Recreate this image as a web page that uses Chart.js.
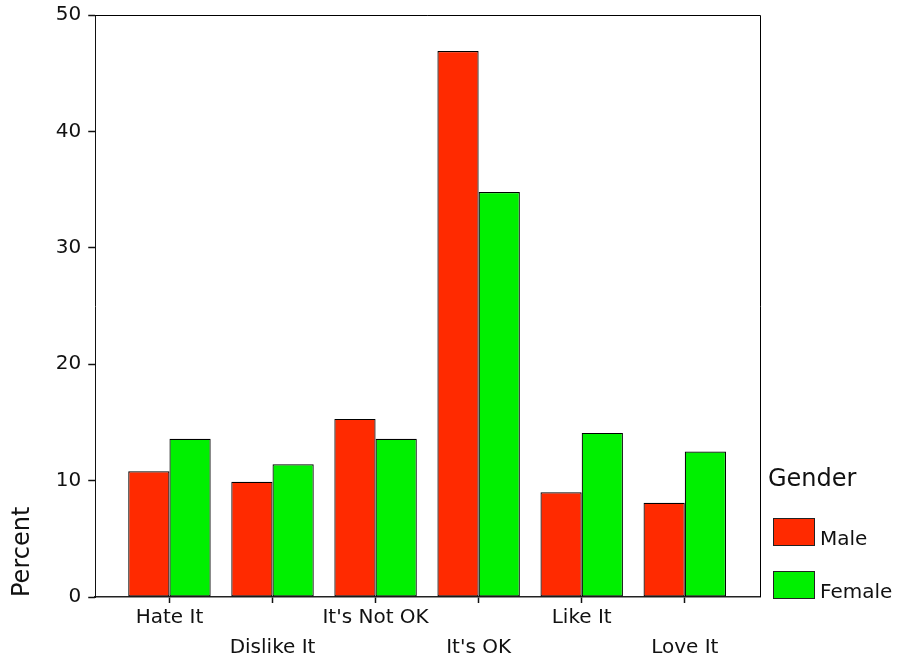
<!DOCTYPE html>
<html>
<head>
<meta charset="utf-8">
<title>Percent by Gender</title>
<script src="https://cdn.jsdelivr.net/npm/chart.js@4.4.1/dist/chart.umd.min.js"></script>
<style>
  html, body { margin:0; padding:0; background:#fff; }
  canvas { display:block; }
</style>
</head>
<body>
<canvas id="genderChart" width="901" height="667"></canvas>
<script>
var categories = ["Hate It", "Dislike It", "It's Not OK", "It's OK", "Like It", "Love It"];
var maleValues = [10.8, 9.9, 15.3, 46.9, 9.0, 8.1];
var femaleValues = [13.6, 11.4, 13.6, 34.8, 14.1, 12.5];
var yTicks = [0, 10, 20, 30, 40, 50];

var FONT = "'DejaVu Sans', sans-serif";
var TEXT = '#111';

// bars sit on a linear x axis (0..5) so the plot can have extra room at both ends
function toPoints(values){
    return values.map(function(v, i){ return {x:i, y:v}; });
}

// top and right edges of the plot box, the axes draw the other two
var frame = {
    id:'frame',
    afterDraw:function(chart){
        var a = chart.chartArea, ctx = chart.ctx;
        ctx.save();
        ctx.strokeStyle = '#000';
        ctx.lineWidth = 1;
        ctx.beginPath();
        ctx.moveTo(a.left, a.top + 0.5);
        ctx.lineTo(a.right + 0.5, a.top + 0.5);
        ctx.lineTo(a.right + 0.5, a.bottom);
        ctx.stroke();
        ctx.restore();
    }
};

// legend box at the lower right, next to the plot
var sideLegend = {
    id:'sideLegend',
    afterDraw:function(chart){
        var a = chart.chartArea, ctx = chart.ctx;
        var sets = chart.data.datasets;
        var boxX = a.right + 13, boxW = 41, boxH = 27;
        ctx.save();
        ctx.fillStyle = TEXT;
        ctx.font = "24px " + FONT;
        ctx.textBaseline = 'middle';
        ctx.fillText('Gender', a.right + 8, a.bottom - 117);
        ctx.font = "20px " + FONT;
        ctx.textBaseline = 'alphabetic';
        for(var i=0; i<sets.length; i++){
            var top = a.bottom - 79 + i*53;
            ctx.fillStyle = sets[i].backgroundColor;
            ctx.fillRect(boxX, top, boxW, boxH);
            ctx.strokeStyle = '#222';
            ctx.lineWidth = 1;
            ctx.strokeRect(boxX + 0.5, top + 0.5, boxW, boxH);
            ctx.fillStyle = TEXT;
            ctx.fillText(sets[i].label, boxX + boxW + 6, top + boxH);
        }
        ctx.restore();
    }
};

var genderChart = new Chart(document.getElementById('genderChart'), {
    type:'bar',
    data:{
        datasets:[{
            label:'Male',
            data:toPoints(maleValues),
            backgroundColor:'#ff2a00',
            borderColor:'#000',
            borderWidth:1.2,
            borderSkipped:false
        },{
            label:'Female',
            data:toPoints(femaleValues),
            backgroundColor:'#00f000',
            borderColor:'#000',
            borderWidth:1.2,
            borderSkipped:false
        }]
    },
    options:{
        responsive:false,
        animation:false,
        categoryPercentage:0.8,
        barPercentage:1.0,
        layout:{ padding:{ left:0, top:15, right:141, bottom:4 } },
        plugins:{
            legend:{ display:false },
            tooltip:{ enabled:false }
        },
        scales:{
            x:{
                type:'linear',
                min:-0.72,
                max:5.73,
                offset:false,
                afterBuildTicks:function(scale){
                    scale.ticks = categories.map(function(c, i){ return {value:i}; });
                },
                ticks:{
                    autoSkip:false,
                    maxRotation:0,
                    padding:0,
                    color:TEXT,
                    font:{ family:FONT, size:20, lineHeight:1.5 },
                    callback:function(value){
                        var label = categories[value];
                        return value % 2 ? ['', label] : label; // every other label drops a line
                    }
                },
                grid:{ offset:false, drawOnChartArea:false, tickLength:6, tickColor:'#111', tickWidth:1.5 },
                border:{ color:'#222', width:1.5 }
            },
            y:{
                min:0,
                max:50,
                afterBuildTicks:function(scale){
                    scale.ticks = yTicks.map(function(v){ return {value:v}; });
                },
                ticks:{
                    padding:7,
                    color:TEXT,
                    font:{ family:FONT, size:20, lineHeight:0.8 }
                },
                grid:{ drawOnChartArea:false, tickLength:7, tickColor:'#111', tickWidth:1.5 },
                border:{ color:'#111', width:1 },
                title:{
                    display:true,
                    text:'Percent',
                    align:'start',
                    color:TEXT,
                    font:{ family:FONT, size:24 },
                    padding:{ top:8, bottom:12 }
                }
            }
        }
    },
    plugins:[frame, sideLegend]
});
</script>
</body>
</html>
